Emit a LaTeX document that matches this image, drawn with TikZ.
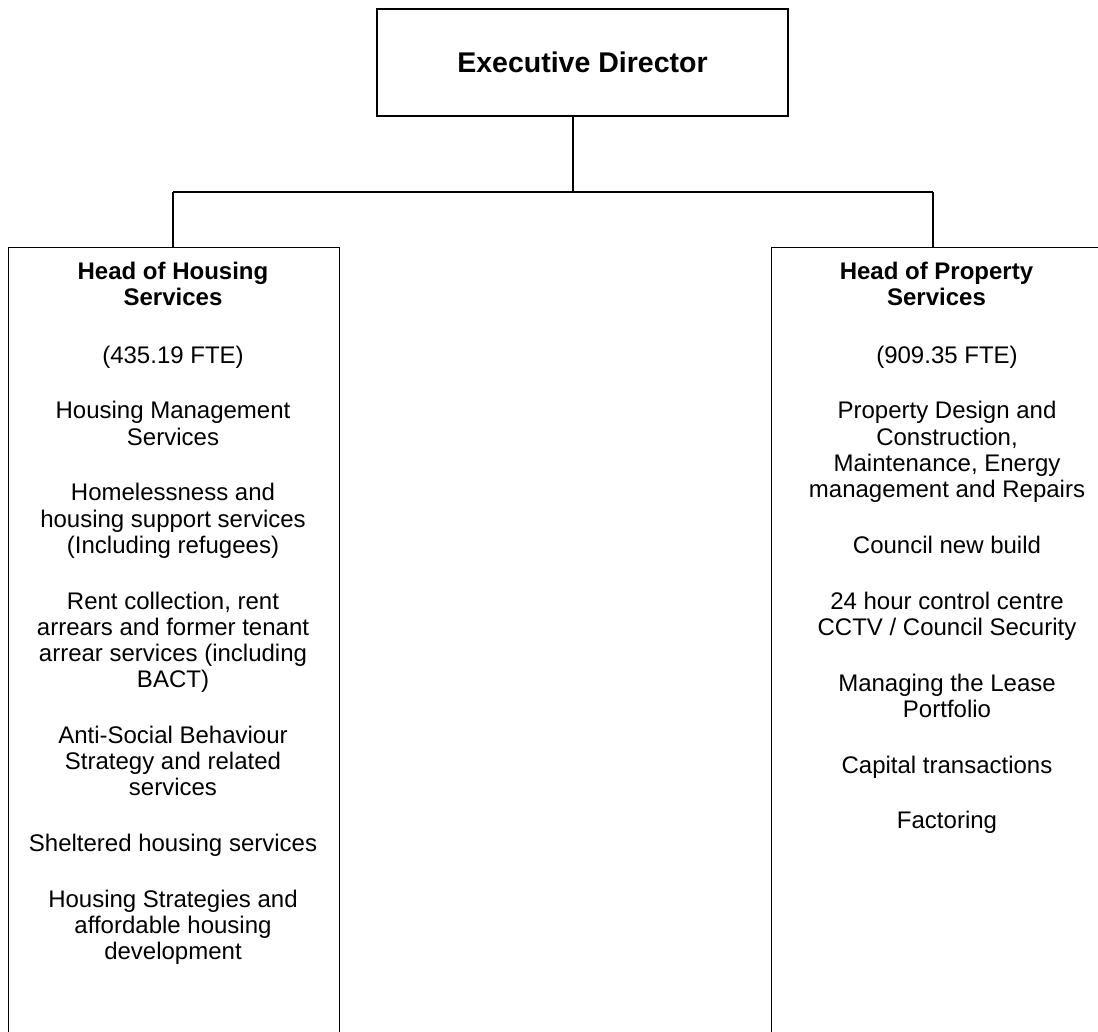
\documentclass[tikz,border=0pt]{standalone}
\usepackage{fontspec}
\setmainfont{Liberation Sans}
\begin{document}
\begin{tikzpicture}[x=1pt,y=-1pt]
\tikzset{
  box/.style={draw, line width=1.3pt, inner sep=0pt},
  link/.style={draw, line width=1.3pt},
  txt/.style={inner sep=0pt, align=center, anchor=north, font=\fontsize{24}{26.2}\selectfont},
  head/.style={txt, font=\fontsize{24}{26.2}\selectfont\bfseries}
}
\useasboundingbox (0,0) rectangle (1098,1032);
\clip (0,0) rectangle (1098,1032);
\fill[white] (0,0) rectangle (1098,1032);
% boxes
\node[box, minimum width=411pt, minimum height=107pt] (exec) at (582.5,62.5) {\fontsize{28.5}{32}\selectfont\bfseries Executive Director};
\node[box, minimum width=331pt, minimum height=830pt, anchor=north west] (hs) at (8,247) {};
\node[box, minimum width=360pt, minimum height=830pt, anchor=north west] (ps) at (771,247) {};
% connectors
\coordinate (j) at (573,192);
\coordinate (jl) at (173,192);
\coordinate (jr) at (933,192);
\draw[link] (exec.south -| j) -- (j);
\draw[link] (jl) -- (jr);
\draw[link] (jl) -- (jl |- hs.north);
\draw[link] (jr) -- (jr |- ps.north);
% left texts
\node[head] (hsh) at (173,262) {Head of Housing\\Services};
\node[txt] (hsb) at (173,345.5) {(435.19 FTE)\\[29.6pt]
Housing Management\\Services\\[29.6pt]
Homelessness and\\housing support services\\(Including refugees)\\[29.6pt]
Rent collection, rent\\arrears and former tenant\\arrear services (including\\BACT)\\[29.6pt]
Anti-Social Behaviour\\Strategy and related\\services\\[29.6pt]
Sheltered housing services\\[29.6pt]
Housing Strategies and\\affordable housing\\development};
% right texts
\node[head] (psh) at (936.5,262) {Head of Property\\Services};
\node[txt] (psb) at (947,345.5) {(909.35 FTE)\\[29.6pt]
Property Design and\\Construction,\\Maintenance, Energy\\management and Repairs\\[29.6pt]
Council new build\\[29.6pt]
24 hour control centre\\CCTV / Council Security\\[29.6pt]
Managing the Lease\\Portfolio\\[29.6pt]
Capital transactions\\[29.6pt]
Factoring};
\end{tikzpicture}
\end{document}
